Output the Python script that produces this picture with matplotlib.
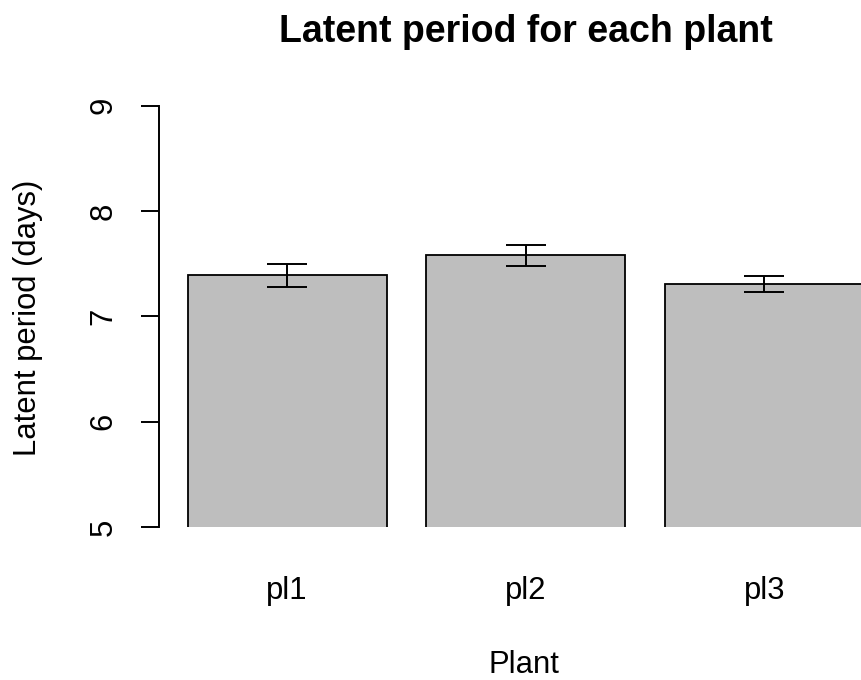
import matplotlib
matplotlib.use('Agg')
import matplotlib.pyplot as plt
import numpy as np

plt.rcParams['font.family'] = ['Liberation Sans', 'DejaVu Sans']

# data
plants = ['pl1', 'pl2', 'pl3']
latent_mean = [7.39, 7.58, 7.31]  # days
latent_se = [0.107, 0.098, 0.076]

# R barplot layout: width 1, space 0.2
bar_w = 1.0
space = 0.2
left = np.arange(len(plants)) * (bar_w + space) + space
centers = left + bar_w / 2
span = left[-1] + bar_w - left[0]
xlo, xhi = left[0] - 0.04 * span, left[-1] + bar_w + 0.04 * span

fig = plt.figure(figsize=(8.62, 6.8), dpi=100)
W, H = 862.0, 680.0
# plot region runs off the right edge like the original
ax = fig.add_axes([160.7 / W, 153 / H, 730 / W, 421.3 / H])

ax.bar(centers, latent_mean, width=bar_w, bottom=0, color='#bebebe',
       edgecolor='black', linewidth=1.3)
ax.errorbar(centers, latent_mean, yerr=latent_se, fmt='none', ecolor='black',
            elinewidth=1.4, capsize=14.4, capthick=1.4)

ax.set_xlim(xlo, xhi)
ax.set_ylim(5, 9)

for s in ['top', 'right', 'bottom']:
    ax.spines[s].set_visible(False)
ax.spines['left'].set_linewidth(1.4)
ax.spines['left'].set_position(('outward', 1))

ax.set_yticks([5, 6, 7, 8, 9])
ax.tick_params(axis='y', length=12.7, width=1.4, labelsize=22.3, pad=16.5,
               labelrotation=90)
for lbl in ax.get_yticklabels():
    lbl.set_va('center')

ax.set_xticks(centers, plants)
ax.tick_params(axis='x', length=0, labelsize=22.3, pad=35.5)

fig.text(525.7 / W, 1 - 41.7 / H, 'Latent period for each plant',
         ha='center', va='baseline', fontsize=27, fontweight='bold')
fig.text(524 / W, 1 - 673 / H, 'Plant', ha='center', va='baseline', fontsize=22.3)
fig.text(28 / W, 1 - 317.5 / H, 'Latent period (days)', ha='center',
         va='center', rotation=90, fontsize=22.3)

fig.savefig('out.png', dpi=100)
